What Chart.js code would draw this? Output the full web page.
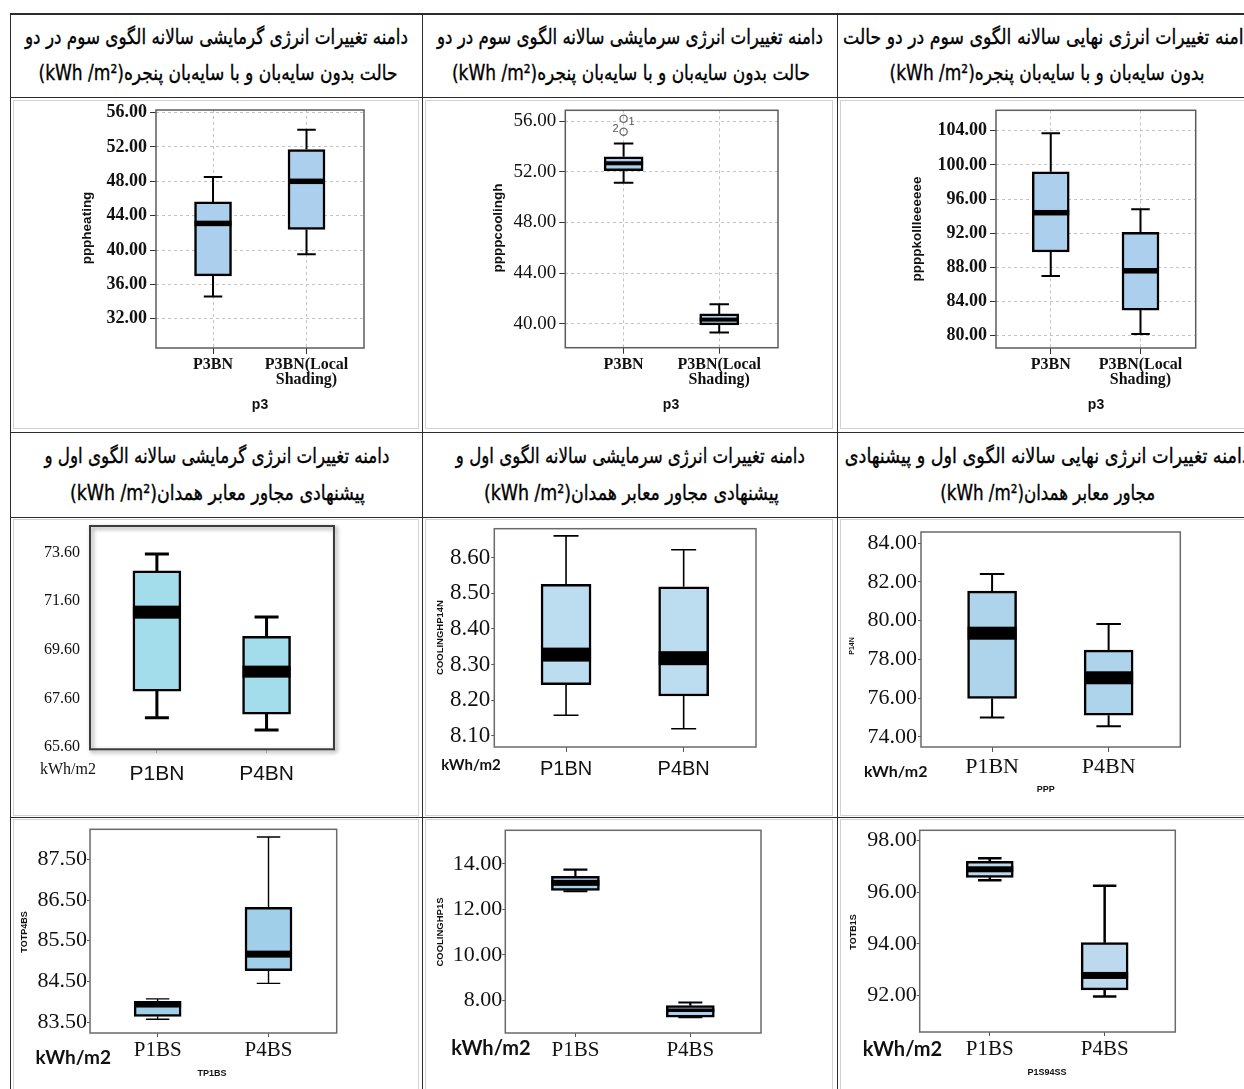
<!DOCTYPE html>
<html>
<head>
<meta charset="utf-8">
<script src="https://cdn.jsdelivr.net/npm/chart.js@4/dist/chart.umd.min.js"></script>
<style>
  html, body { margin: 0; padding: 0; background: #fff; }
  #page { position: relative; width: 1244px; height: 1089px; overflow: hidden; background: #fff; }
  .hl { position: absolute; height: 1.5px; background: #2b2b2b; z-index: 5; }
  .vl { position: absolute; width: 1.5px; background: #2b2b2b; z-index: 5; }
  .ib { position: absolute; border: 1px solid #d2d2d2; box-sizing: border-box; }
  .hd { position: absolute; white-space: nowrap; direction: rtl; unicode-bidi: plaintext;
        font-family: 'DejaVu Sans Condensed', 'DejaVu Sans', sans-serif; font-size: 21px;
        color: #000; transform-origin: center center; line-height: 24px;
        -webkit-text-stroke: 0.35px #000; }
  canvas.bx { position: absolute; z-index: 2; }
</style>
</head>
<body>
<div id="page"></div>
<script>
// ---------- data: pattern 3, without / with local window shading ----------
const p3Labels = ['P3BN', 'P3BN(Local Shading)'];

const p3HeatMin = [34.6, 39.5];
const p3HeatQ1  = [37.0, 42.4];
const p3HeatMed = [43.1, 48.0];
const p3HeatQ3  = [45.6, 51.7];
const p3HeatMax = [48.5, 54.0];
const p3HeatTicks = [32, 36, 40, 44, 48, 52, 56];

const p3CoolMin = [51.15, 39.3];
const p3CoolQ1  = [52.1, 39.9];
const p3CoolMed = [52.68, 40.32];
const p3CoolQ3  = [53.19, 40.77];
const p3CoolMax = [54.24, 41.53];
const p3CoolOutliers = [[56.2, 55.18], []];
const p3CoolOutlierIds = [['1', '2'], []];
const p3CoolTicks = [40, 44, 48, 52, 56];

const p3TotalMin = [87.0, 80.2];
const p3TotalQ1  = [89.8, 83.0];
const p3TotalMed = [94.4, 87.6];
const p3TotalQ3  = [99.2, 92.1];
const p3TotalMax = [103.7, 94.8];
const p3TotalTicks = [80, 84, 88, 92, 96, 100, 104];

// ---------- data: patterns 1 and 4, north side ----------
const nLabels = ['P1BN', 'P4BN'];

const nHeatMin = [66.8, 66.3];
const nHeatQ1  = [67.9, 66.95];
const nHeatMed = [71.15, 68.7];
const nHeatQ3  = [72.85, 70.15];
const nHeatMax = [73.55, 70.95];
const nHeatTicks = [65.6, 67.6, 69.6, 71.6, 73.6];

const nCoolMin = [8.158, 8.12];
const nCoolQ1  = [8.244, 8.212];
const nCoolMed = [8.328, 8.318];
const nCoolQ3  = [8.525, 8.518];
const nCoolMax = [8.661, 8.622];
const nCoolTicks = [8.1, 8.2, 8.3, 8.4, 8.5, 8.6];

const nTotalMin = [75.0, 74.55];
const nTotalQ1  = [75.98, 75.12];
const nTotalMed = [79.35, 77.05];
const nTotalQ3  = [81.52, 78.48];
const nTotalMax = [82.4, 79.83];
const nTotalTicks = [74, 76, 78, 80, 82, 84];

// ---------- data: patterns 1 and 4, south side ----------
const sLabels = ['P1BS', 'P4BS'];

const sHeatMin = [83.57, 84.45];
const sHeatQ1  = [83.64, 84.76];
const sHeatMed = [83.93, 85.17];
const sHeatQ3  = [84.01, 86.32];
const sHeatMax = [84.07, 88.05];
const sHeatTicks = [83.5, 84.5, 85.5, 86.5, 87.5];

const sCoolMin = [12.79, 7.26];
const sCoolQ1  = [12.83, 7.26];
const sCoolMed = [13.16, 7.56];
const sCoolQ3  = [13.45, 7.76];
const sCoolMax = [13.74, 7.9];
const sCoolTicks = [8, 10, 12, 14];

const sTotalMin = [96.47, 91.96];
const sTotalQ1  = [96.58, 92.22];
const sTotalMed = [96.89, 92.78];
const sTotalQ3  = [97.2, 94.05];
const sTotalMax = [97.32, 96.25];
const sTotalTicks = [92, 94, 96, 98];

// ---------- header texts ----------
const headerTexts = [
  'دامنه تغییرات انرژی گرمایشی سالانه الگوی سوم در دو',
  'حالت بدون سایه‌بان و با سایه‌بان پنجره(kWh /m²)',
  'دامنه تغییرات انرژی سرمایشی سالانه الگوی سوم در دو',
  'حالت بدون سایه‌بان و با سایه‌بان پنجره(kWh /m²)',
  'دامنه تغییرات انرژی نهایی سالانه الگوی سوم  در دو حالت',
  'بدون سایه‌بان و با سایه‌بان پنجره(kWh /m²)',
  'دامنه تغییرات انرژی گرمایشی سالانه الگوی اول و',
  'پیشنهادی مجاور معابر همدان(kWh /m²)',
  'دامنه تغییرات انرژی سرمایشی سالانه الگوی اول و',
  'پیشنهادی مجاور معابر همدان(kWh /m²)',
  'دامنه تغییرات انرژی نهایی سالانه الگوی اول و پیشنهادی',
  'مجاور معابر همدان(kWh /m²)'
];
// centre x, centre y, fitted width for each header line
const headerBoxes = [
  [216.5, 37, 383], [217.5, 73, 359],
  [630, 37, 386],   [631, 73, 358],
  [1047, 37, 408],  [1047.5, 73, 315],
  [216.5, 456, 345], [217.5, 493, 295],
  [630.5, 456, 349], [631.5, 493, 295],
  [1047, 456, 405],  [1047.5, 493, 215]
];

const page = document.getElementById('page');

// ---------- table grid ----------
function addDiv(cls, l, t, w, h) {
  const d = document.createElement('div');
  d.className = cls;
  d.style.left = l + 'px'; d.style.top = t + 'px';
  if (w != null) d.style.width = w + 'px';
  if (h != null) d.style.height = h + 'px';
  page.appendChild(d);
  return d;
}
[13, 96.5, 431.5, 516.5, 816.5].forEach(y => addDiv('hl', 10, y, 1234, null));
[9.5, 421.5, 836.5].forEach(x => addDiv('vl', x, 13, null, 1076));

// pasted-figure outlines inside the cells
[[13, 100, 406, 329], [425, 100, 408, 329], [840, 100, 410, 329],
 [13, 519, 406, 297], [425, 519, 408, 297], [840, 519, 410, 297],
 [13, 819, 406, 275], [425, 819, 408, 275], [840, 819, 410, 275]]
  .forEach(r => addDiv('ib', r[0], r[1], r[2], r[3]));

// ---------- header lines ----------
headerTexts.forEach((txt, i) => {
  const [cx, cy, tw] = headerBoxes[i];
  const d = document.createElement('div');
  d.className = 'hd';
  d.textContent = txt;
  page.appendChild(d);
  const w = d.getBoundingClientRect().width;
  d.style.left = (cx - w / 2) + 'px';
  d.style.top = (cy - 12) + 'px';
  d.style.transform = 'scaleX(' + (tw / w).toFixed(4) + ')';
});

// ---------- box plot drawing ----------
function boxPlugin(s) {
  return {
    id: 'boxplot',
    beforeDatasetsDraw(chart) {
      const a = chart.chartArea, ctx = chart.ctx;
      ctx.save();
      if (s.frameShadow) {
        ctx.shadowColor = 'rgba(0,0,0,0.45)';
        ctx.shadowBlur = 4; ctx.shadowOffsetX = 2; ctx.shadowOffsetY = 2;
      }
      ctx.strokeStyle = s.frameColor;
      ctx.lineWidth = s.frameWidth;
      ctx.strokeRect(a.left, a.top, a.right - a.left, a.bottom - a.top);
      ctx.restore();
    },
    afterDatasetsDraw(chart) {
      const ctx = chart.ctx, y = chart.scales.y;
      chart.getDatasetMeta(0).data.forEach((bar, i) => {
        const cx = bar.x, w = bar.width, cap = w * 0.5;
        const pMax = y.getPixelForValue(s.max[i]);
        const pMin = y.getPixelForValue(s.min[i]);
        const pQ1 = y.getPixelForValue(s.q1[i]);
        const pQ3 = y.getPixelForValue(s.q3[i]);
        const pMed = y.getPixelForValue(s.med[i]);
        ctx.save();
        ctx.strokeStyle = '#000';
        ctx.lineWidth = s.whisker;
        ctx.beginPath();
        ctx.moveTo(cx, pQ3); ctx.lineTo(cx, pMax);
        ctx.moveTo(cx - cap / 2, pMax); ctx.lineTo(cx + cap / 2, pMax);
        ctx.moveTo(cx, pQ1); ctx.lineTo(cx, pMin);
        ctx.moveTo(cx - cap / 2, pMin); ctx.lineTo(cx + cap / 2, pMin);
        ctx.stroke();
        ctx.fillStyle = '#000';
        const mw = s.medW[i];
        ctx.fillRect(cx - w / 2, pMed - mw / 2, w, mw);
        if (s.outliers) {
          (s.outliers[i] || []).forEach((v, k) => {
            const py = y.getPixelForValue(v);
            ctx.beginPath();
            ctx.strokeStyle = '#6e6e6e';
            ctx.lineWidth = 1.3;
            ctx.arc(cx, py, 3.6, 0, Math.PI * 2);
            ctx.stroke();
            ctx.fillStyle = '#555';
            ctx.font = '11px "Liberation Sans", Arial, sans-serif';
            ctx.textAlign = 'center'; ctx.textBaseline = 'middle';
            const off = k === 0 ? [8, 3] : [-8, -3];
            ctx.fillText(s.outlierIds[i][k], cx + off[0], py + off[1]);
          });
        }
        ctx.restore();
      });
    }
  };
}

function captionPlugin(s) {
  return {
    id: 'captions',
    afterDraw(chart) {
      const ctx = chart.ctx;
      (s.captions || []).forEach(t => {
        ctx.save();
        ctx.font = t.font;
        ctx.fillStyle = t.color || '#111';
        ctx.textAlign = 'center';
        ctx.textBaseline = 'middle';
        ctx.translate(t.x - s.cell[0], t.y - s.cell[1]);
        if (t.rot) ctx.rotate(-Math.PI / 2);
        ctx.fillText(t.text, 0, 0);
        ctx.restore();
      });
    }
  };
}

function boxChart(s) {
  const cv = document.createElement('canvas');
  cv.className = 'bx';
  const W = s.cell[2] - s.cell[0], H = s.cell[3] - s.cell[1];
  cv.width = W; cv.height = H;
  cv.style.left = s.cell[0] + 'px'; cv.style.top = s.cell[1] + 'px';
  cv.style.width = W + 'px'; cv.style.height = H + 'px';
  page.appendChild(cv);

  const dashed = s.grid === 'dashed';
  new Chart(cv, {
    type: 'bar',
    data: {
      datasets: [{
        data: s.labels.map((c, i) => ({ x: i, y: [s.q1[i], s.q3[i]] })),
        backgroundColor: s.fill,
        borderColor: '#000',
        borderWidth: s.boxLine,
        borderSkipped: false,
        barThickness: s.barW
      }]
    },
    options: {
      responsive: false,
      animation: false,
      devicePixelRatio: 1,
      events: [],
      layout: { padding: { left: 0, top: s.frame[1] - s.cell[1], right: s.cell[2] - s.frame[2], bottom: 0 } },
      plugins: { legend: { display: false }, tooltip: { enabled: false } },
      scales: {
        x: {
          type: 'linear', min: -0.61, max: 1.615, offset: false,
          afterBuildTicks: sc => { sc.ticks = s.labels.map((c, i) => ({ value: i })); },
          afterFit: sc => { sc.height = s.cell[3] - s.frame[3]; sc.paddingLeft = 0; sc.paddingRight = 0; },
          ticks: {
            autoSkip: false, maxRotation: 0, minRotation: 0,
            padding: s.xPad,
            color: '#111',
            font: s.xFont,
            callback: v => { const l = s.labels[v]; return l && l.indexOf(' ') > 0 ? l.split(' ') : l; }
          },
          grid: dashed
            ? { offset: false, display: true, drawOnChartArea: true, color: '#c3c3c3', lineWidth: 1, tickLength: s.xTick, tickColor: '#333', tickWidth: 1, tickBorderDash: [] }
            : { offset: false, display: true, drawOnChartArea: false, tickLength: s.xTick, tickColor: s.xTickColor || '#555', tickWidth: 1 },
          border: { display: false, dash: dashed ? [3, 3] : [] }
        },
        y: {
          type: 'linear', min: s.yRange[0], max: s.yRange[1],
          afterBuildTicks: sc => { sc.ticks = s.ticks.map(v => ({ value: v })); },
          afterFit: sc => { sc.width = s.frame[0] - s.cell[0]; sc.paddingTop = 0; sc.paddingBottom = 0; },
          ticks: {
            padding: s.yPad,
            color: '#111',
            font: s.yFont,
            callback: v => Number(v).toFixed(2)
          },
          grid: dashed
            ? { display: true, drawOnChartArea: true, color: '#c3c3c3', lineWidth: 1, tickLength: s.yTick, tickColor: '#333', tickWidth: 1, tickBorderDash: [] }
            : { display: true, drawOnChartArea: false, drawTicks: s.yTick > 0, tickLength: s.yTick, tickColor: '#555', tickWidth: 1 },
          border: { display: false, dash: dashed ? [3, 3] : [] }
        }
      }
    },
    plugins: [boxPlugin(s), captionPlugin(s)]
  });
}

const SERIF = '"Liberation Serif", "Times New Roman", serif';
const SANS = '"Liberation Sans", Arial, sans-serif';
const kwh = n => 'bold ' + n + 'px Lato, "Open Sans", sans-serif';

// ---- row 1 ----
boxChart({
  cell: [10, 97, 422, 432], frame: [156, 110, 364, 348],
  labels: p3Labels, min: p3HeatMin, q1: p3HeatQ1, med: p3HeatMed, q3: p3HeatQ3, max: p3HeatMax,
  ticks: p3HeatTicks, yRange: [28.6, 56.3],
  grid: 'dashed', fill: '#abcfec', boxLine: 2.5, whisker: 2, barW: 37, medW: [5.5, 5.5],
  frameColor: '#5c5c5c', frameWidth: 1.5,
  yFont: { family: SERIF, size: 18, weight: 'bold', lineHeight: 1 }, yTick: 6, yPad: 3,
  xFont: { family: SERIF, size: 16, weight: 'bold', lineHeight: 0.95 }, xTick: 6, xPad: 3.5,
  captions: [
    { text: 'pppheating', x: 87, y: 228, rot: true, font: 'bold 13.5px ' + SANS },
    { text: 'p3', x: 260, y: 405, font: 'bold 14px ' + SANS }
  ]
});
boxChart({
  cell: [422, 97, 837, 432], frame: [565.3, 110.3, 778, 347.7],
  labels: p3Labels, min: p3CoolMin, q1: p3CoolQ1, med: p3CoolMed, q3: p3CoolQ3, max: p3CoolMax,
  outliers: p3CoolOutliers, outlierIds: p3CoolOutlierIds,
  ticks: p3CoolTicks, yRange: [38.1, 56.87],
  grid: 'dashed', fill: '#abcfec', boxLine: 2.5, whisker: 2, barW: 39, medW: [4, 4],
  frameColor: '#5c5c5c', frameWidth: 1.5,
  yFont: { family: SERIF, size: 19, lineHeight: 1 }, yTick: 6, yPad: 3,
  xFont: { family: SERIF, size: 16, weight: 'bold', lineHeight: 0.95 }, xTick: 6, xPad: 3.5,
  captions: [
    { text: 'ppppcoolingh', x: 498.7, y: 228, rot: true, font: 'bold 13.5px ' + SANS },
    { text: 'p3', x: 671, y: 405, font: 'bold 14px ' + SANS }
  ]
});
boxChart({
  cell: [837, 97, 1244, 432], frame: [996, 110.3, 1195.7, 348],
  labels: p3Labels, min: p3TotalMin, q1: p3TotalQ1, med: p3TotalMed, q3: p3TotalQ3, max: p3TotalMax,
  ticks: p3TotalTicks, yRange: [78.56, 106.39],
  grid: 'dashed', fill: '#abcfec', boxLine: 2.5, whisker: 2, barW: 37, medW: [5.5, 5.5],
  frameColor: '#5c5c5c', frameWidth: 1.5,
  yFont: { family: SERIF, size: 18, weight: 'bold', lineHeight: 1 }, yTick: 6, yPad: 3,
  xFont: { family: SERIF, size: 16, weight: 'bold', lineHeight: 0.95 }, xTick: 6, xPad: 3.5,
  captions: [
    { text: 'ppppkollleeeeee', x: 917, y: 229, rot: true, font: 'bold 13.5px ' + SANS },
    { text: 'p3', x: 1096, y: 405, font: 'bold 14px ' + SANS }
  ]
});

// ---- row 2 ----
boxChart({
  cell: [10, 517, 422, 817], frame: [90, 526, 334, 749.3],
  labels: nLabels, min: nHeatMin, q1: nHeatQ1, med: nHeatMed, q3: nHeatQ3, max: nHeatMax,
  ticks: nHeatTicks, yRange: [65.5, 74.7],
  grid: 'plain', fill: '#a3dcea', boxLine: 2.5, whisker: 3, barW: 48, medW: [13, 12],
  frameColor: '#3c3c3c', frameWidth: 2, frameShadow: true,
  yFont: { family: SERIF, size: 16, lineHeight: 1 }, yTick: 0, yPad: 10,
  xFont: { family: SANS, size: 21, lineHeight: 1 }, xTick: 4, xPad: 10, xTickColor: '#bbb',
  captions: [
    { text: 'kWh/m2', x: 68, y: 770, font: '16px ' + SERIF }
  ]
});
boxChart({
  cell: [422, 517, 837, 817], frame: [494.3, 528.7, 756, 747],
  labels: nLabels, min: nCoolMin, q1: nCoolQ1, med: nCoolMed, q3: nCoolQ3, max: nCoolMax,
  ticks: nCoolTicks, yRange: [8.069, 8.681],
  grid: 'plain', fill: '#bcdcf0', boxLine: 2.5, whisker: 1.6, barW: 50, medW: [14, 14],
  frameColor: '#6a6a6a', frameWidth: 1.5,
  yFont: { family: SERIF, size: 23, lineHeight: 1 }, yTick: 3, yPad: 1,
  xFont: { family: SANS, size: 20, lineHeight: 1 }, xTick: 5, xPad: 7,
  captions: [
    { text: 'COOLINGHP14N', x: 440.3, y: 637.5, rot: true, font: 'bold 9.5px ' + SANS },
    { text: 'kWh/m2', x: 471, y: 765, font: kwh(15) }
  ]
});
boxChart({
  cell: [837, 517, 1244, 817], frame: [921, 532, 1180.3, 747],
  labels: nLabels, min: nTotalMin, q1: nTotalQ1, med: nTotalMed, q3: nTotalQ3, max: nTotalMax,
  ticks: nTotalTicks, yRange: [73.48, 84.57],
  grid: 'plain', fill: '#aed4eb', boxLine: 2.5, whisker: 2, barW: 49, medW: [13, 13],
  frameColor: '#6a6a6a', frameWidth: 1.5,
  yFont: { family: SERIF, size: 22, lineHeight: 1 }, yTick: 3, yPad: 1,
  xFont: { family: SERIF, size: 22, lineHeight: 1 }, xTick: 5, xPad: 4,
  captions: [
    { text: 'P14N', x: 852, y: 646, rot: true, font: 'bold 7px ' + SANS },
    { text: 'PPP', x: 1045.7, y: 790, font: 'bold 9px ' + SANS },
    { text: 'kWh/m2', x: 895.7, y: 772, font: kwh(16) }
  ]
});

// ---- row 3 ----
boxChart({
  cell: [10, 817, 422, 1089], frame: [90, 829.3, 336.7, 1033],
  labels: sLabels, min: sHeatMin, q1: sHeatQ1, med: sHeatMed, q3: sHeatQ3, max: sHeatMax,
  ticks: sHeatTicks, yRange: [83.23, 88.24],
  grid: 'plain', fill: '#9fcfe9', boxLine: 2.5, whisker: 1.4, barW: 47, medW: [6, 7],
  frameColor: '#6a6a6a', frameWidth: 1.5,
  yFont: { family: SERIF, size: 22, lineHeight: 1 }, yTick: 3, yPad: 0,
  xFont: { family: SERIF, size: 21, lineHeight: 1 }, xTick: 4, xPad: 2.8,
  captions: [
    { text: 'TOTP4BS', x: 25, y: 932, rot: true, font: 'bold 9px ' + SANS },
    { text: 'TP1BS', x: 212, y: 1074, font: 'bold 9px ' + SANS },
    { text: 'kWh/m2', x: 73.3, y: 1058, font: kwh(19) }
  ]
});
boxChart({
  cell: [422, 817, 837, 1089], frame: [505.3, 830.3, 761, 1033],
  labels: sLabels, min: sCoolMin, q1: sCoolQ1, med: sCoolMed, q3: sCoolQ3, max: sCoolMax,
  ticks: sCoolTicks, yRange: [6.56, 15.47],
  grid: 'plain', fill: '#a9cfea', boxLine: 2.5, whisker: 2.2, barW: 48, medW: [6, 3.5],
  frameColor: '#6a6a6a', frameWidth: 1.5,
  yFont: { family: SERIF, size: 22, lineHeight: 1 }, yTick: 3, yPad: 0,
  xFont: { family: SERIF, size: 21, lineHeight: 1 }, xTick: 4, xPad: 2.8,
  captions: [
    { text: 'COOLINGHP1S', x: 440, y: 932, rot: true, font: 'bold 9.5px ' + SANS },
    { text: 'kWh/m2', x: 491, y: 1049, font: kwh(20) }
  ]
});
boxChart({
  cell: [837, 817, 1244, 1089], frame: [919.7, 830.3, 1175.3, 1032],
  labels: sLabels, min: sTotalMin, q1: sTotalQ1, med: sTotalMed, q3: sTotalQ3, max: sTotalMax,
  ticks: sTotalTicks, yRange: [90.59, 98.4],
  grid: 'plain', fill: '#bdd9ee', boxLine: 2.5, whisker: 2.5, barW: 47, medW: [6, 7],
  frameColor: '#6a6a6a', frameWidth: 1.5,
  yFont: { family: SERIF, size: 22, lineHeight: 1 }, yTick: 3, yPad: 0,
  xFont: { family: SERIF, size: 21, lineHeight: 1 }, xTick: 4, xPad: 3.2,
  captions: [
    { text: 'TOTB1S', x: 853.7, y: 932, rot: true, font: 'bold 9px ' + SANS },
    { text: 'P1S94SS', x: 1047, y: 1073, font: 'bold 9px ' + SANS },
    { text: 'kWh/m2', x: 902.5, y: 1049.7, font: kwh(20) }
  ]
});
</script>
</body>
</html>
